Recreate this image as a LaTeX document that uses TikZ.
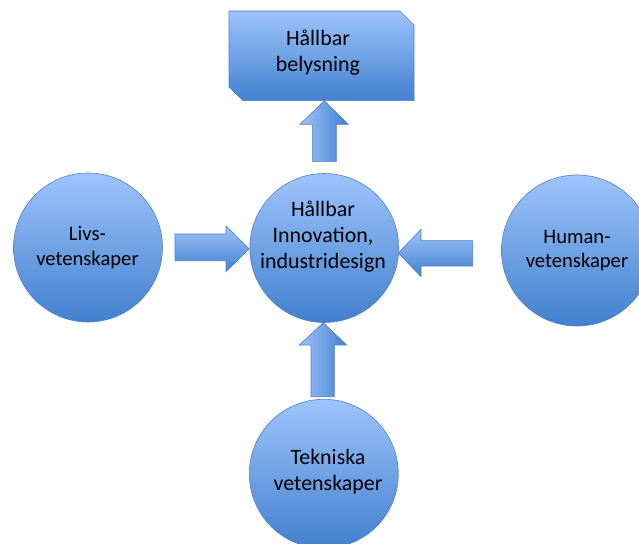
\documentclass[tikz,border=0pt]{standalone}
\usepackage{fontspec}
\setmainfont{Carlito}
\definecolor{bluetop}{RGB}{158,196,252}
\definecolor{bluebot}{RGB}{66,128,206}
\definecolor{blueline}{RGB}{80,130,200}
\begin{document}
\begin{tikzpicture}[x=1bp,y=-1bp,
  vshade/.style={top color=bluetop,bottom color=bluebot,draw=blueline,line width=0.6bp},
  hshade/.style={left color=bluetop,right color=bluebot,draw=blueline,line width=0.6bp},
  bubble/.style={circle,vshade,inner sep=0pt,minimum size=149bp},
  bigtxt/.style={align=center,font=\fontsize{22}{26}\selectfont,inner sep=0pt},
  smalltxt/.style={align=center,font=\fontsize{20.7}{25}\selectfont,inner sep=0pt}]
\useasboundingbox (0,0) rectangle (639,544);
\clip (0,0) rectangle (639,544);
% top box
\path[vshade] (229,11) -- (400,11) -- (414,25) -- (414,100.7) -- (243,100.7) -- (229,87) -- cycle;
\node[bigtxt] (topt) at (318,52.8) {Hållbar\\belysning};
% circles
\node[bubble] (centre) at (324.3,248) {};
\node[bubble] (life) at (88,247.5) {};
\node[bubble,minimum size=151bp] (human) at (577,250.5) {};
\node[bubble] (tech) at (323.8,473.8) {};
\node[bigtxt] (centret) at (323,236.3) {Hållbar\\Innovation,\\industridesign};
\node[smalltxt] (lifet) at (87.5,248) {Livs-\\vetenskaper};
\node[smalltxt] (humant) at (577,250.5) {Human-\\vetenskaper};
\node[bigtxt] (techt) at (328,471.6) {Tekniska\\vetenskaper};
% block arrows
\path[hshade] (324.3,100.7) -- (348.3,124.3) -- (336.3,124.3) -- (336.3,161.7) -- (312.3,161.7) -- (312.3,124.3) -- (300,124.3) -- cycle;
\path[hshade] (323.3,322.7) -- (346.7,345) -- (334.3,345) -- (334.3,396.7) -- (311,396.7) -- (311,345) -- (299.3,345) -- cycle;
\path[vshade] (249.3,248.8) -- (226,271.7) -- (226,260.7) -- (175,260.7) -- (175,234) -- (226,234) -- (226,226) -- cycle;
\path[vshade] (398.3,253) -- (421,229.3) -- (421,240.7) -- (472.7,240.7) -- (472.7,266) -- (421,266) -- (421,276.7) -- cycle;
\end{tikzpicture}
\end{document}
